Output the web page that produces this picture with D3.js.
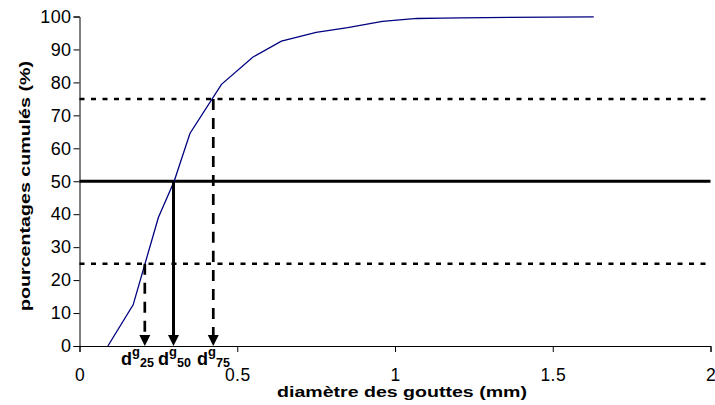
<!DOCTYPE html>
<html><head><meta charset="utf-8">
<script src="https://cdn.jsdelivr.net/npm/d3@7"></script>
<style>body{margin:0;background:#fff}svg{display:block;font-family:Arial,"Liberation Sans",sans-serif}</style>
</head><body>
<script>
const diameters = [0.09, 0.17, 0.25, 0.30, 0.35, 0.45, 0.55, 0.64, 0.75, 0.85, 0.96, 1.07, 1.15, 1.21, 1.63];
const cumulative = [0, 12.5, 39, 50, 64.5, 79.4, 87.7, 92.5, 95.2, 96.6, 98.5, 99.4, 99.5, 99.6, 99.9];
const xTicks = [0, 0.5, 1, 1.5, 2];
const xTickLabels = ["0", "0.5", "1", "1.5", "2"];
const yTicks = [0,10,20,30,40,50,60,70,80,90,100];
const refLevels = [25, 50, 75];
const refDiameters = [0.207, 0.298, 0.424];
const refSubs = ["25", "50", "75"];

const W = 715, H = 405;
const FONT = "Arial,'Liberation Sans',sans-serif";
const svg = d3.select("body").append("svg").attr("width", W).attr("height", H);
const x = d3.scaleLinear().domain([0, 2]).range([79.5, 710.5]);
const y = d3.scaleLinear().domain([0, 100]).range([346, 16.5]);

// reference horizontal lines
refLevels.forEach((lv) => {
  svg.append("line").attr("x1", x(0)).attr("x2", x(2)).attr("y1", y(lv)).attr("y2", y(lv))
    .attr("stroke", "#000").attr("stroke-width", lv === 50 ? 3 : 2.5)
    .attr("stroke-dasharray", lv === 50 ? null : "5,6.5");
});

// axes
const yAxis = svg.append("g").attr("transform", `translate(${x(0)},0)`)
  .call(d3.axisLeft(y).tickValues(yTicks).tickSize(6).tickPadding(2));
yAxis.select(".domain").attr("stroke", "#000");
yAxis.selectAll("text").attr("font-size", 18).attr("fill", "#000").attr("font-family", FONT).attr("letter-spacing", 0.4);

const xAxis = svg.append("g").attr("transform", `translate(0,${y(0)})`)
  .call(d3.axisBottom(x).tickValues(xTicks).tickFormat((d, i) => xTickLabels[i]).tickSize(6).tickPadding(17));
xAxis.select(".domain").attr("stroke", "#000");
xAxis.selectAll("text").attr("font-size", 17.5).attr("fill", "#000").attr("font-family", FONT).attr("letter-spacing", 0.4);

// curve
const data = diameters.map((d, i) => [d, cumulative[i]]);
svg.append("path").datum(data)
  .attr("d", d3.line().x(d => x(d[0])).y(d => y(d[1])))
  .attr("fill", "none").attr("stroke", "#000080").attr("stroke-width", 1.3);

// vertical arrows
refDiameters.forEach((dv, i) => {
  const lv = refLevels[i];
  const xx = x(dv);
  svg.append("line").attr("x1", xx).attr("x2", xx).attr("y1", y(lv)).attr("y2", y(0) - 9)
    .attr("stroke", "#000").attr("stroke-width", lv === 50 ? 3 : 2.7)
    .attr("stroke-dasharray", lv === 50 ? null : "11,8");
  svg.append("path")
    .attr("d", `M${xx - 5.5},${y(0) - 11} L${xx + 5.5},${y(0) - 11} L${xx},${y(0)} Z`)
    .attr("fill", "#000");
});

// d labels
const labelStarts = [121, 158, 197];
refSubs.forEach((s, i) => {
  const t = svg.append("text").attr("x", labelStarts[i]).attr("y", 365)
    .attr("font-size", 18).attr("font-weight", "bold").attr("fill", "#000");
  t.append("tspan").text("d");
  t.append("tspan").attr("dy", -9).attr("font-size", 13).text("g");
  t.append("tspan").attr("dy", 11).attr("font-size", 12.5).text(s);
});

// titles
svg.append("text").attr("x", 402).attr("y", 397).attr("text-anchor", "middle")
  .attr("font-size", 15).attr("font-weight", "bold")
  .attr("textLength", 250).attr("lengthAdjust", "spacingAndGlyphs")
  .text("diamètre des gouttes (mm)");
svg.append("text").attr("transform", `translate(30,186) rotate(-90)`).attr("text-anchor", "middle")
  .attr("font-size", 15).attr("font-weight", "bold")
  .attr("textLength", 250).attr("lengthAdjust", "spacingAndGlyphs")
  .text("pourcentages cumulés (%)");
</script>
</body></html>
